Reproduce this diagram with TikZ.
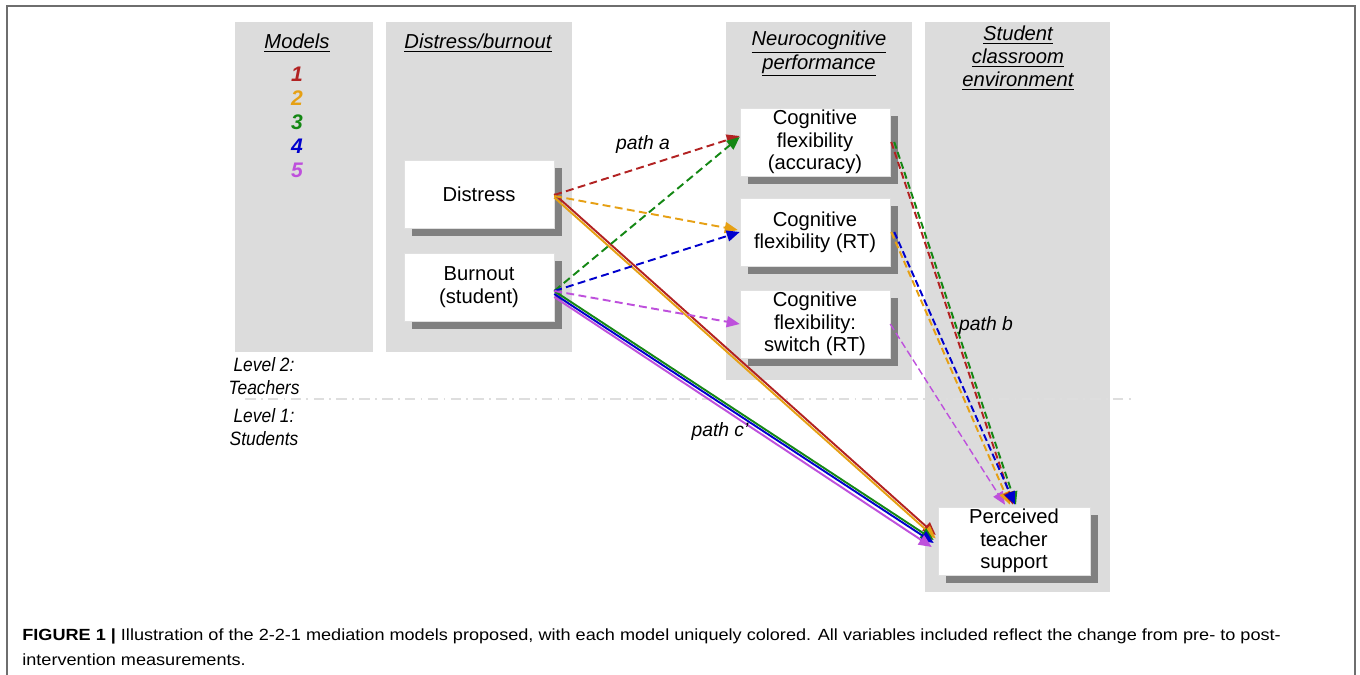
\documentclass[tikz,border=0pt]{standalone}
\usepackage{fontspec}
\usepackage{tikz}
\usetikzlibrary{arrows.meta,calc,shadows}
\setmainfont{Liberation Sans}
\newfontfamily\capfont[FakeStretch=1.12]{Liberation Sans}
\newfontfamily\narrowfont[FakeStretch=0.9]{Liberation Sans}

\definecolor{mone}{RGB}{178,34,34}
\definecolor{mtwo}{RGB}{230,160,20}
\definecolor{mthree}{RGB}{20,135,20}
\definecolor{mfour}{RGB}{0,0,205}
\definecolor{mfive}{RGB}{190,80,220}
\definecolor{panelgray}{RGB}{220,220,220}
\definecolor{shadowgray}{RGB}{128,128,128}
\definecolor{framegray}{RGB}{110,110,110}
\definecolor{sepgray}{RGB}{222,222,222}

\begin{document}
\begin{tikzpicture}[x=0.02cm,y=-0.02cm,
    panel/.style={fill=panelgray},
    varbox/.style={fill=white,draw=white!88!black,line width=0.3pt,
      minimum width=3cm,minimum height=1.36cm,inner sep=1pt,align=center,
      font=\fontsize{11.5}{12.7}\selectfont,
      drop shadow={shadow xshift=0.16cm,shadow yshift=-0.16cm,fill=shadowgray,opacity=1}},
    header/.style={align=center,font=\fontsize{11.5}{13.2}\selectfont\itshape},
    tag/.style={font=\fontsize{12}{13}\selectfont\bfseries\itshape},
    pathlbl/.style={font=\fontsize{11}{12}\selectfont\itshape},
    lvl/.style={align=center,font=\fontsize{11}{13}\selectfont\narrowfont\itshape},
    patha/.style={line width=1.1pt,dash pattern=on 4.5pt off 2.5pt,
      -{Triangle[length=0.26cm,width=0.22cm]}},
    pathb/.style={line width=1.1pt,dash pattern=on 4pt off 2pt,
      -{Triangle[length=0.26cm,width=0.22cm]}},
    pathc/.style={line width=1.1pt,-{Triangle[length=0.26cm,width=0.22cm]}}]
        \useasboundingbox (0,0) rectangle (1360,675);
        \draw[framegray,line width=0.8pt] (7,675) -- (7,6) -- (1355,6) -- (1355,675);

        % columns
        \fill[panel] (235,22) rectangle (373,352);
        \fill[panel] (386,22) rectangle (572,352);
        \fill[panel] (726,22) rectangle (912,380);
        \fill[panel] (925,22) rectangle (1110,592);

        \node[header] (hmod) at (297,43) {\underline{Models}};
        \node[header] (hdis) at (478,43) {\underline{Distress/burnout}};
        \node[header] (hneu) at (819,54) {\underline{Neurocognitive}\\\underline{performance}};
        \node[header] (hstu) at (1018,58) {\underline{Student}\\\underline{classroom}\\\underline{environment}};

        \node[tag,mone]   (t1) at (297,74)  {1};
        \node[tag,mtwo]   (t2) at (297,98)  {2};
        \node[tag,mthree] (t3) at (297,122) {3};
        \node[tag,mfour]  (t4) at (297,146) {4};
        \node[tag,mfive]  (t5) at (297,170) {5};

        % levels
        \coordinate (sepL) at (245,399);
        \coordinate (sepR) at (1135,399);
        \draw[sepgray,line width=0.6pt,dash pattern=on 6pt off 3pt on 1pt off 3pt] (sepL) -- (sepR);
        \node[lvl] (lvtwo) at (264,376) {Level 2:\\Teachers};
        \node[lvl] (lvone) at (264,427) {Level 1:\\Students};

        % variables
        \node[varbox] (dis) at (479,194) {Distress};
        \node[varbox] (bur) at (479,287) {Burnout\\(student)};
        \node[varbox] (acc) at (815,142) {Cognitive\\flexibility\\(accuracy)};
        \node[varbox] (crt) at (815,232) {Cognitive\\flexibility (RT)};
        \node[varbox] (swi) at (815,324) {Cognitive\\flexibility:\\switch (RT)};
        \node[varbox,minimum width=3.04cm] (pts) at (1014,541) {Perceived\\teacher\\support};

        % path c'
        \draw[pathc,mone]   ($(dis.east)+(0,0)$) -- ($(pts.west)+(-2,-6)$);
        \draw[pathc,mtwo]   ($(dis.east)+(0,3.5)$) -- ($(pts.west)+(-2,-2.5)$);
        \draw[pathc,mthree] ($(bur.east)+(0,4)$) -- ($(pts.west)+(-4,-1)$);
        \draw[pathc,mfour]  ($(bur.east)+(0,7)$) -- ($(pts.west)+(-4,2)$);
        \draw[pathc,mfive]  ($(bur.east)+(0,10)$) -- ($(pts.west)+(-6,6)$);

        % path a
        \draw[patha,mone]   ($(dis.east)+(0,1)$) -- ($(acc.west)+(0,-6)$);
        \draw[patha,mtwo]   ($(dis.east)+(0,2)$) -- ($(crt.west)+(-2,-2)$);
        \draw[patha,mthree] ($(bur.east)+(0,4)$) -- ($(acc.west)+(0,-5)$);
        \draw[patha,mfour]  ($(bur.east)+(0,4)$) -- (crt.west);
        \draw[patha,mfive]  ($(bur.east)+(0,4)$) -- (swi.west);

        % path b
        \draw[pathb,mfive,line width=0.8pt] (swi.east) -- ($(pts.north)+(-9,-2)$);
        \draw[pathb,mtwo]   ($(crt.east)+(1,0)$) -- ($(pts.north)+(-4,-2)$);
        \draw[pathb,mone]   ($(acc.east)+(1,0)$) -- ($(pts.north)+(-1,-2)$);
        \draw[pathb,mthree] ($(acc.east)+(4,0)$) -- ($(pts.north)+(2,-2)$);
        \draw[pathb,mfour]  ($(crt.east)+(4,0)$) -- ($(pts.north)+(1,-2)$);

        \node[pathlbl] (la) at (643,145) {path a};
        \node[pathlbl] (lb) at (986,326) {path b};
        \node[pathlbl] (lc) at (720,432) {path c'};

        % caption
        \node[anchor=north west,align=left,inner sep=0pt,
          font=\fontsize{9.2}{14.5}\selectfont\capfont] (cap) at (22,628)
          {\textbf{FIGURE 1 |} Illustration of the 2-2-1 mediation models proposed, with each model uniquely colored. All variables included reflect the change from pre- to post-\\intervention measurements.};
    \end{tikzpicture}
\end{document}
